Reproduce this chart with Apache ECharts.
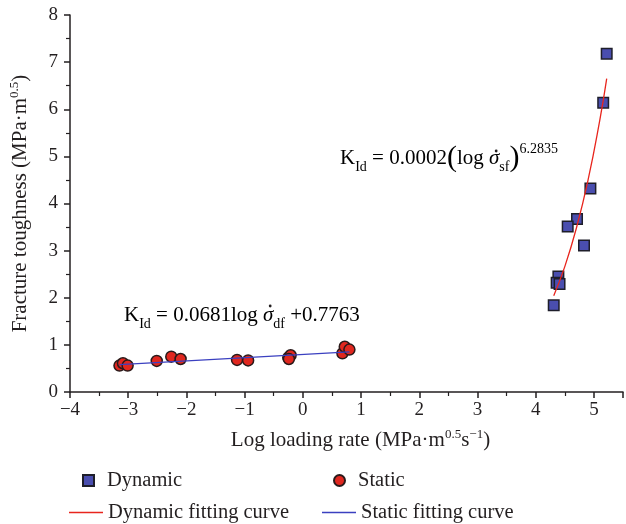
<!DOCTYPE html>
<html lang="en">
<head>
  <meta charset="utf-8">
  <title>Fracture toughness vs loading rate</title>
  <style>
    html, body { margin: 0; padding: 0; background: #fff; }
    #container { width: 626px; height: 524px; }
  </style>
</head>
<body>
  <div id="container"></div>
  <script src="https://cdn.jsdelivr.net/npm/echarts@6/dist/echarts.min.js"></script>
  <script>
    // points: [log loading rate, K_Id]
    var dynamicPts = [
      [5.22, 7.18], [5.16, 6.14], [4.94, 4.32], [4.71, 3.67], [4.55, 3.51],
      [4.83, 3.11], [4.39, 2.45], [4.36, 2.32], [4.41, 2.29], [4.31, 1.84]
    ];
    var staticPts = [
      [-3.15, 0.56], [-3.09, 0.61], [-3.01, 0.56], [-2.51, 0.66], [-2.26, 0.75],
      [-2.10, 0.70], [-1.13, 0.68], [-0.94, 0.67], [-0.25, 0.73], [-0.21, 0.78],
      [-0.24, 0.70], [0.68, 0.82], [0.72, 0.96], [0.80, 0.90]
    ];
    // fitted curves
    var dynamicFit = [[4.31, 2.04], [4.5, 2.66], [4.7, 3.48], [4.9, 4.50], [5.1, 5.76], [5.22, 6.65]];
    var staticFit = [[-3.15, 0.58], [0.80, 0.85]];

    var serif = '"Liberation Serif", "DejaVu Serif", serif';
    var ink = '#231f20';
    var EQ = 21, SUB = 14, PAR = 30;

    var chart = echarts.init(document.getElementById('container'));

    function minus(v) {
      if (v !== Math.round(v)) return '';
      return v < 0 ? '\u2212' + Math.abs(v) : String(v);
    }

    // text width helper, used to put the rate dot over sigma
    var ctx = document.createElement('canvas').getContext('2d');
    function tw(s, size, italic) {
      ctx.font = (italic ? 'italic ' : '') + size + 'px ' + serif;
      return ctx.measureText(s).width;
    }

    var eqRich = {
      m: { fontFamily: serif, fontSize: EQ, lineHeight: 32, color: ink },
      g: { fontFamily: serif, fontSize: EQ, lineHeight: 32, color: ink, fontStyle: 'italic' },
      sub: { fontFamily: serif, fontSize: SUB, lineHeight: 16, color: ink, verticalAlign: 'bottom' },
      sup: { fontFamily: serif, fontSize: SUB, lineHeight: 16, color: ink, verticalAlign: 'top' },
      p: { fontFamily: serif, fontSize: PAR, lineHeight: 32, color: ink }
    };

    var eq1 = { left: 124, top: 305 };
    var eq2 = { left: 340, top: 142 };
    var sigW = tw('\u03c3', EQ, true);
    var dot1 = eq1.left + tw('K', EQ) + tw('Id', SUB) + tw(' = 0.0681log ', EQ) + sigW / 2 + 2;
    var dot2 = eq2.left + tw('K', EQ) + tw('Id', SUB) + tw(' = 0.0002', EQ) + tw('(', PAR) + tw('log ', EQ) + sigW / 2 + 2;

    var nameRich = {
      a: { fontFamily: serif, fontSize: 21, lineHeight: 24, color: ink },
      s: { fontFamily: serif, fontSize: 13, lineHeight: 13, color: ink, verticalAlign: 'top' }
    };

    chart.setOption({
      animation: false,
      grid: { left: 67, right: 1, top: 15, bottom: 132 },
      xAxis: {
        type: 'value',
        min: -4, max: 5.5, interval: 1,
        name: '{a|Log loading rate (MPa\u00b7m}{s|0.5}{a|s}{s|\u22121}{a|)}',
        nameLocation: 'middle',
        nameGap: 36,
        nameTextStyle: { rich: nameRich, padding: [0, 0, 0, 28] },
        axisLine: { onZero: false, lineStyle: { color: ink, width: 1.5 } },
        axisTick: { length: 6, lineStyle: { color: ink, width: 1.5 } },
        minorTick: { show: true, splitNumber: 2, length: 4, lineStyle: { color: ink, width: 1.2 } },
        axisLabel: { fontFamily: serif, fontSize: 19, color: ink, margin: 9, formatter: minus },
        splitLine: { show: false }
      },
      yAxis: {
        type: 'value',
        min: 0, max: 8, interval: 1,
        name: '{a|Fracture toughness (MPa\u00b7m}{s|0.5}{a|)}',
        nameLocation: 'middle',
        nameGap: 38,
        nameTextStyle: { rich: nameRich },
        axisLine: { onZero: false, lineStyle: { color: ink, width: 1.5 } },
        axisTick: { length: 6, lineStyle: { color: ink, width: 1.5 } },
        minorTick: { show: true, splitNumber: 2, length: 4, lineStyle: { color: ink, width: 1.2 } },
        axisLabel: { fontFamily: serif, fontSize: 19, color: ink, margin: 12 },
        splitLine: { show: false }
      },
      legend: [
        { data: ['Dynamic'], left: 82, top: 470, textStyle: { padding: [0, 0, 0, 8] } },
        { data: ['Static'], left: 333, top: 470, textStyle: { padding: [0, 0, 0, 8] } },
        { data: ['Dynamic fitting curve'], left: 69, top: 502, itemWidth: 34, itemHeight: 1.5, icon: 'rect' },
        { data: ['Static fitting curve'], left: 322, top: 502, itemWidth: 34, itemHeight: 1.5, icon: 'rect' }
      ].map(function (l) {
        var ts = Object.assign({ fontFamily: serif, fontSize: 20.5, color: ink }, l.textStyle || {});
        return Object.assign({
          padding: 0,
          itemGap: 10,
          itemWidth: 11,
          itemHeight: 11
        }, l, { textStyle: ts });
      }),
      graphic: [
        {
          id: 'eq1', type: 'text', left: eq1.left, top: eq1.top, z: 10,
          style: {
            text: '{m|K}{sub|Id}{m| = 0.0681log }{g|\u03c3}{sub|df}{m| +0.7763}',
            rich: eqRich
          }
        },
        {
          id: 'eq1dot', type: 'circle', z: 11,
          shape: { cx: dot1, cy: eq1.top + 1, r: 1.4 },
          style: { fill: ink }
        },
        {
          id: 'eq2', type: 'text', left: eq2.left, top: eq2.top, z: 10,
          style: {
            text: '{m|K}{sub|Id}{m| = 0.0002}{p|(}{m|log }{g|\u03c3}{sub|sf}{p|)}{sup|6.2835}',
            rich: eqRich
          }
        },
        {
          id: 'eq2dot', type: 'circle', z: 11,
          shape: { cx: dot2, cy: eq2.top + 9, r: 1.4 },
          style: { fill: ink }
        }
      ],
      series: [
        {
          name: 'Dynamic', type: 'scatter', data: dynamicPts,
          symbol: 'rect', symbolSize: 10.5,
          itemStyle: { color: '#4a4eaf', borderColor: '#1e1e2a', borderWidth: 1.5, opacity: 1 }
        },
        {
          name: 'Static', type: 'scatter', data: staticPts,
          symbol: 'circle', symbolSize: 11,
          itemStyle: { color: '#e0271f', borderColor: '#2a1a1a', borderWidth: 1.5, opacity: 1 }
        },
        {
          name: 'Dynamic fitting curve', type: 'line', data: dynamicFit,
          smooth: true, symbol: 'none',
          lineStyle: { color: '#e8251d', width: 1.3 },
          itemStyle: { color: '#e8251d' }
        },
        {
          name: 'Static fitting curve', type: 'line', data: staticFit,
          symbol: 'none',
          lineStyle: { color: '#3b40c0', width: 1.3 },
          itemStyle: { color: '#3b40c0' }
        }
      ]
    });
  </script>
</body>
</html>
